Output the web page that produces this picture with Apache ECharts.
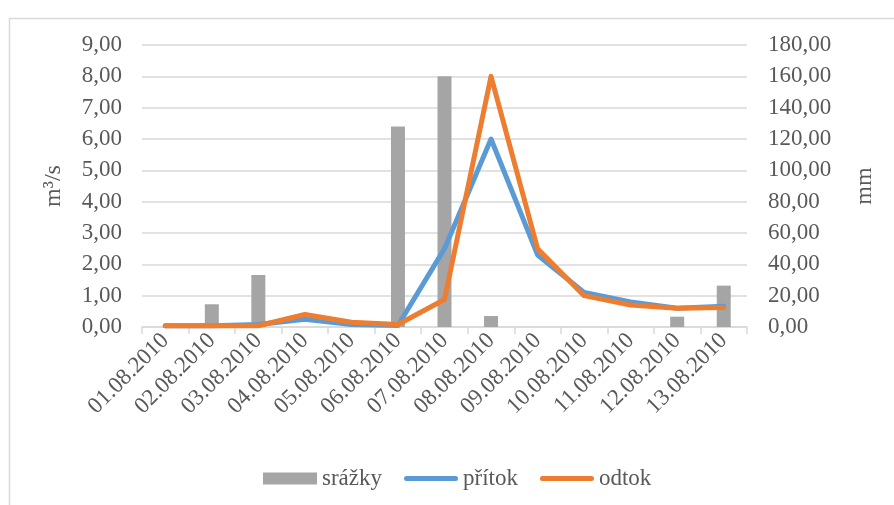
<!DOCTYPE html>
<html>
<head>
<meta charset="utf-8">
<style>
  html, body { margin: 0; padding: 0; background: #ffffff; }
  #chart { width: 894px; height: 505px; }
</style>
<script src="https://cdn.jsdelivr.net/npm/echarts@6/dist/echarts.min.js"></script>
</head>
<body>
<div id="chart"></div>
<script>
// Daily data, 1.–13. 8. 2010
const dates = ['01.08.2010', '02.08.2010', '03.08.2010', '04.08.2010', '05.08.2010',
  '06.08.2010', '07.08.2010', '08.08.2010', '09.08.2010', '10.08.2010',
  '11.08.2010', '12.08.2010', '13.08.2010'];
// precipitation [mm] (right axis)
const srazky = [0, 14.5, 33.2, 0, 0, 128, 160, 7, 0, 0, 0, 6.6, 26.4];
// inflow [m3/s] (left axis)
const pritok = [0.04, 0.04, 0.08, 0.25, 0.08, 0.05, 2.5, 6.0, 2.3, 1.1, 0.8, 0.6, 0.66];
// outflow [m3/s] (left axis)
const odtok = [0.04, 0.04, 0.04, 0.4, 0.15, 0.08, 0.88, 8.0, 2.5, 1.0, 0.7, 0.6, 0.62];

const fmt = v => v.toFixed(2).replace('.', ',');
const FONT = 'Liberation Serif';
const TXT = '#595959';
const GRID = '#d9d9d9';
// rounded line swatch for the line series in the legend
const LINE_ICON = 'path://M2.5,0 H51.5 A2.5,2.5 0 0 1 51.5,5 H2.5 A2.5,2.5 0 0 1 2.5,0 Z';
const legendText = { fontFamily: FONT, fontSize: 23, color: TXT };

const chart = echarts.init(document.getElementById('chart'), null, { renderer: 'canvas' });
chart.setOption({
  animation: false,
  backgroundColor: '#ffffff',
  textStyle: { fontFamily: FONT, color: TXT },
  graphic: [{
    type: 'rect',
    left: 7, top: 16,
    shape: { width: 900, height: 500 },
    style: { fill: 'none', stroke: GRID, lineWidth: 1.5 },
    silent: true
  }],
  grid: { left: 142, right: 147, top: 45, bottom: 178, containLabel: false },
  legend: {
    left: 258, top: 462,
    itemWidth: 54, itemHeight: 12, itemGap: 22,
    symbolKeepAspect: true,
    formatter: '{t|{name}}',
    textStyle: {
      fontFamily: FONT, fontSize: 23, color: TXT,
      rich: { t: legendText }
    },
    data: [
      { name: 'srážky', icon: 'rect' },
      { name: 'přítok', icon: LINE_ICON },
      { name: 'odtok', icon: LINE_ICON }
    ]
  },
  xAxis: {
    type: 'category',
    data: dates,
    boundaryGap: true,
    axisLine: { lineStyle: { color: GRID, width: 1.5 } },
    axisTick: { show: true, length: 7, lineStyle: { color: GRID, width: 1.5 } },
    axisLabel: { rotate: 45, fontFamily: FONT, fontSize: 23, color: TXT, margin: 10, interval: 0 }
  },
  yAxis: [{
    type: 'value',
    min: 0, max: 9, interval: 1,
    name: 'm³/s',
    nameLocation: 'middle',
    nameGap: 76,
    nameRotate: 90,
    nameTextStyle: { fontFamily: FONT, fontSize: 24, color: TXT },
    axisLine: { show: false },
    axisTick: { show: false },
    axisLabel: { formatter: fmt, fontFamily: FONT, fontSize: 23, color: TXT, margin: 20 },
    splitLine: { lineStyle: { color: GRID, width: 1.5 } }
  }, {
    type: 'value',
    min: 0, max: 180, interval: 20,
    name: 'mm',
    nameLocation: 'middle',
    nameGap: 106,
    nameRotate: 90,
    nameTextStyle: { fontFamily: FONT, fontSize: 24, color: TXT },
    axisLine: { show: false },
    axisTick: { show: false },
    axisLabel: { formatter: fmt, fontFamily: FONT, fontSize: 23, color: TXT, margin: 21 },
    splitLine: { show: false }
  }],
  series: [{
    name: 'srážky',
    type: 'bar',
    yAxisIndex: 1,
    data: srazky,
    barWidth: 14,
    itemStyle: { color: '#a5a5a5' },
    z: 1
  }, {
    name: 'přítok',
    type: 'line',
    yAxisIndex: 0,
    data: pritok,
    symbol: 'none',
    itemStyle: { color: '#5b9bd5' },
    lineStyle: { color: '#5b9bd5', width: 5, cap: 'round', join: 'round' },
    z: 3
  }, {
    name: 'odtok',
    type: 'line',
    yAxisIndex: 0,
    data: odtok,
    symbol: 'none',
    itemStyle: { color: '#ed7d31' },
    lineStyle: { color: '#ed7d31', width: 5, cap: 'round', join: 'round' },
    z: 4
  }]
});
</script>
</body>
</html>
